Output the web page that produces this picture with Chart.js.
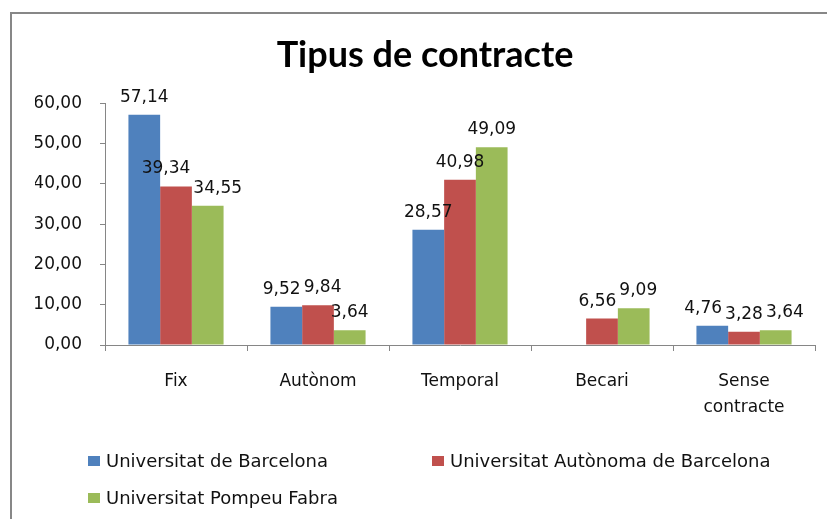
<!DOCTYPE html>
<html>
<head>
<meta charset="utf-8">
<title>Tipus de contracte</title>
<script src="https://cdn.jsdelivr.net/npm/chart.js@4.4.1/dist/chart.umd.min.js"></script>
<style>
    html, body { margin: 0; padding: 0; background: #fff; overflow: hidden; }
    #wrap { position: relative; width: 827px; height: 519px; }
    #frame {
        position: absolute; left: 10px; top: 12px; width: 900px; height: 600px;
        border-left: 2px solid #878787; border-top: 2px solid #878787;
    }
    #chart { position: absolute; left: 0; top: 0; }
    .legend { position: absolute; font-family: "DejaVu Sans", sans-serif; font-size: 18px; line-height: 22px; color: #111; white-space: nowrap; }
    .legend span.box { display: inline-block; width: 12px; height: 10px; margin-right: 6px; vertical-align: 1px; }
</style>
</head>
<body>
<div id="wrap">
    <div id="frame"></div>
    <canvas id="chart" width="827" height="519"></canvas>
    <div id="legend"></div>
</div>
<script>
// Chart data
const categories = ['Fix', 'Autònom', 'Temporal', 'Becari', ['Sense', 'contracte']];
const seriesNames = ['Universitat de Barcelona', 'Universitat Autònoma de Barcelona', 'Universitat Pompeu Fabra'];
const ubValues = [57.14, 9.52, 28.57, null, 4.76];
const uabValues = [39.34, 9.84, 40.98, 6.56, 3.28];
const upfValues = [34.55, 3.64, 49.09, 9.09, 3.64];
const seriesColors = ['#4F81BD', '#C0504D', '#9BBB59'];

function comma(v) {
    return v.toFixed(2).replace('.', ',');
}

// Value labels above each bar, pushed apart sideways when they would collide
const barLabels = {
    id: 'barLabels',
    afterDatasetsDraw(chart) {
        const ctx = chart.ctx;
        ctx.save();
        ctx.font = '17px "DejaVu Sans"';
        ctx.fillStyle = '#111';
        ctx.textAlign = 'center';
        ctx.textBaseline = 'alphabetic';
        const nCat = chart.data.labels.length;
        for (let j = 0; j < nCat; j++) {
            const items = [];
            chart.data.datasets.forEach(function(ds, i) {
                const v = ds.data[j];
                if (v === null || v === undefined) return;
                const bar = chart.getDatasetMeta(i).data[j];
                const text = comma(v);
                items.push({ text: text, x: bar.x, y: bar.y - 13, w: ctx.measureText(text).width });
            });
            for (let it = 0; it < 10; it++) {
                for (let k = 1; k < items.length; k++) {
                    const a = items[k - 1], b = items[k];
                    const need = (a.w + b.w) / 2 + 3;
                    if (Math.abs(a.y - b.y) < 20 && b.x - a.x < need) {
                        const d = (need - (b.x - a.x)) / 2;
                        a.x -= d;
                        b.x += d;
                    }
                }
            }
            items.forEach(function(l) { ctx.fillText(l.text, l.x, l.y); });
        }
        ctx.restore();
    }
};

const allSeries = [ubValues, uabValues, upfValues];

new Chart(document.getElementById('chart').getContext('2d'), {
    type: 'bar',
    data: {
        labels: categories,
        datasets: allSeries.map(function(vals, i) {
            return {
                label: seriesNames[i],
                data: vals,
                backgroundColor: seriesColors[i],
                borderWidth: 0,
                categoryPercentage: 0.67,
                barPercentage: 1.0
            };
        })
    },
    options: {
        responsive: false,
        animation: false,
        layout: { padding: { left: 35, right: 12, top: 0, bottom: 0 } },
        plugins: {
            legend: { display: false },
            tooltip: { enabled: false },
            title: {
                display: true,
                text: 'Tipus de contracte',
                color: '#000',
                font: { family: 'Lato', size: 36, weight: 'bold' },
                padding: { top: 34, bottom: 26 }
            }
        },
        scales: {
            x: {
                grid: { display: true, drawOnChartArea: false, drawTicks: true, tickLength: 6, color: '#868686', offset: true },
                border: { display: true, color: '#868686', width: 1 },
                ticks: {
                    color: '#111',
                    font: { family: 'DejaVu Sans', size: 17, lineHeight: 1.5 },
                    padding: 18,
                    maxRotation: 0,
                    autoSkip: false
                },
                afterFit: function(scale) { scale.height = 174; }
            },
            y: {
                min: 0,
                max: 60,
                grid: { display: true, drawOnChartArea: false, drawTicks: true, tickLength: 5, color: '#868686' },
                border: { display: true, color: '#868686', width: 1 },
                ticks: {
                    stepSize: 10,
                    color: '#111',
                    font: { family: 'DejaVu Sans', size: 17 },
                    padding: 18,
                    callback: function(v) { return comma(v); }
                },
                afterFit: function(scale) { scale.width = 70; }
            }
        }
    },
    plugins: [barLabels]
});

// Legend laid out in two columns, like the original
const legendPos = [[88, 450], [432, 450], [88, 487]];
const legendEl = document.getElementById('legend');
seriesNames.forEach(function(name, i) {
    const item = document.createElement('div');
    item.className = 'legend';
    item.style.left = legendPos[i][0] + 'px';
    item.style.top = legendPos[i][1] + 'px';
    item.innerHTML = '<span class="box" style="background:' + seriesColors[i] + '"></span>' + name;
    legendEl.appendChild(item);
});
</script>
</body>
</html>
